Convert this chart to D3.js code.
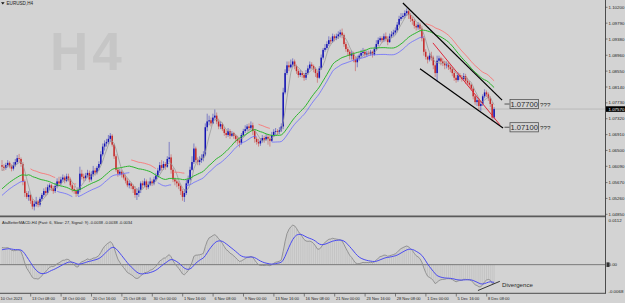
<!DOCTYPE html>
<html>
<head>
<meta charset="utf-8">
<title>EURUSD,H4</title>
<script src="https://cdn.jsdelivr.net/npm/d3@7"></script>
<style>
  html, body { margin: 0; padding: 0; background: #d3d3d3; }
  svg { display: block; font-family: "Liberation Sans", Arial, sans-serif; }
</style>
</head>
<body>
<svg id="chart" width="625" height="303"></svg>
<script>
// H4 closes before the first visible bar (3 Oct 16:00 .. 10 Oct 12:00), only used to warm up the indicators
const warmupCloses = [
  1.0470, 1.0468,
  1.0462, 1.0472, 1.0488, 1.0495, 1.0505, 1.0502,
  1.0508, 1.0520, 1.0535, 1.0550, 1.0545, 1.0548,
  1.0550, 1.0555, 1.0545, 1.0500, 1.0560, 1.0587,
  1.0560, 1.0555, 1.0568, 1.0570, 1.0575, 1.0565,
  1.0575, 1.0590, 1.0600, 1.0612
];

// visible bars, 10 Oct 16:00 .. 8 Dec 20:00 (6 bars a day)
const closes = [
  1.0608, 1.0605,
  1.0612, 1.0618, 1.0609, 1.0603, 1.0612, 1.0620,
  1.0630, 1.0628, 1.0615, 1.0570, 1.0540, 1.0530,
  1.0535, 1.0520, 1.0505, 1.0512, 1.0518, 1.0510,
  1.0525, 1.0535, 1.0545, 1.0540, 1.0555, 1.0560,
  1.0552, 1.0545, 1.0558, 1.0570, 1.0565, 1.0575,
  1.0580, 1.0572, 1.0583, 1.0575, 1.0560, 1.0550,
  1.0545, 1.0538, 1.0548, 1.0590, 1.0582, 1.0578,
  1.0585, 1.0592, 1.0575, 1.0588, 1.0598, 1.0593,
  1.0605, 1.0615, 1.0640, 1.0660, 1.0668, 1.0672,
  1.0680, 1.0688, 1.0665, 1.0635, 1.0600, 1.0590,
  1.0595, 1.0588, 1.0580, 1.0572, 1.0560, 1.0565,
  1.0558, 1.0550, 1.0535, 1.0540, 1.0548, 1.0565,
  1.0560, 1.0570, 1.0555, 1.0562, 1.0570, 1.0565,
  1.0575, 1.0585, 1.0598, 1.0612, 1.0605, 1.0615,
  1.0608, 1.0628, 1.0632, 1.0600, 1.0575, 1.0570,
  1.0565, 1.0558, 1.0545, 1.0530, 1.0540, 1.0565,
  1.0575, 1.0600, 1.0620, 1.0655, 1.0625, 1.0620,
  1.0625, 1.0630, 1.0640, 1.0710, 1.0725, 1.0728,
  1.0720, 1.0735, 1.0740, 1.0725, 1.0712, 1.0718,
  1.0705, 1.0695, 1.0690, 1.0700, 1.0688, 1.0695,
  1.0688, 1.0680, 1.0675, 1.0670, 1.0690, 1.0700,
  1.0705, 1.0712, 1.0708, 1.0715, 1.0700, 1.0680,
  1.0672, 1.0668, 1.0675, 1.0682, 1.0678, 1.0685,
  1.0680, 1.0675, 1.0690, 1.0698, 1.0700, 1.0698,
  1.0702, 1.0712, 1.0800, 1.0850, 1.0870, 1.0865,
  1.0872, 1.0880, 1.0868, 1.0855, 1.0845, 1.0850,
  1.0845, 1.0838, 1.0850, 1.0862, 1.0872, 1.0868,
  1.0860, 1.0850, 1.0838, 1.0862, 1.0890, 1.0910,
  1.0915, 1.0925, 1.0935, 1.0932, 1.0945, 1.0940,
  1.0945, 1.0950, 1.0955, 1.0948, 1.0925, 1.0912,
  1.0905, 1.0895, 1.0900, 1.0885, 1.0878, 1.0888,
  1.0895, 1.0902, 1.0905, 1.0898, 1.0902, 1.0900,
  1.0905, 1.0898, 1.0912, 1.0925, 1.0935, 1.0940,
  1.0935, 1.0945, 1.0938, 1.0930, 1.0945, 1.0950,
  1.0955, 1.0960, 1.0975, 1.0990, 1.0995, 1.0998,
  1.1005, 1.1010, 1.1000, 1.0990, 1.0985, 1.0972,
  1.0968, 1.0975, 1.0965, 1.0940, 1.0905, 1.0892,
  1.0885, 1.0895, 1.0890, 1.0870, 1.0850, 1.0882,
  1.0888, 1.0880, 1.0875, 1.0870, 1.0872, 1.0865,
  1.0860, 1.0850, 1.0838, 1.0832, 1.0845, 1.0840,
  1.0835, 1.0842, 1.0830, 1.0825, 1.0820, 1.0810,
  1.0790, 1.0775, 1.0780, 1.0765, 1.0770, 1.0790,
  1.0800, 1.0795, 1.0785, 1.0770, 1.0735, 1.0757
];

const highs = [
  1.0625, 1.0614,
  1.0618, 1.0625, 1.0622, 1.0614, 1.0620, 1.0628,
  1.0638, 1.0641, 1.0632, 1.0620, 1.0575, 1.0545,
  1.0545, 1.0538, 1.0525, 1.0520, 1.0530, 1.0522,
  1.0530, 1.0540, 1.0552, 1.0555, 1.0562, 1.0565,
  1.0564, 1.0558, 1.0566, 1.0578, 1.0582, 1.0582,
  1.0588, 1.0585, 1.0590, 1.0590, 1.0580, 1.0565,
  1.0558, 1.0550, 1.0555, 1.0608, 1.0600, 1.0590,
  1.0592, 1.0600, 1.0598, 1.0596, 1.0610, 1.0605,
  1.0610, 1.0622, 1.0648, 1.0668, 1.0676, 1.0680,
  1.0690, 1.0695, 1.0692, 1.0668, 1.0640, 1.0605,
  1.0602, 1.0600, 1.0595, 1.0588, 1.0578, 1.0572,
  1.0568, 1.0562, 1.0558, 1.0552, 1.0555, 1.0570,
  1.0572, 1.0578, 1.0575, 1.0570, 1.0580, 1.0575,
  1.0582, 1.0592, 1.0605, 1.0620, 1.0625, 1.0622,
  1.0620, 1.0635, 1.0672, 1.0640, 1.0605, 1.0580,
  1.0575, 1.0570, 1.0562, 1.0550, 1.0550, 1.0575,
  1.0585, 1.0608, 1.0635, 1.0668, 1.0660, 1.0632,
  1.0635, 1.0640, 1.0648, 1.0720, 1.0745, 1.0740,
  1.0735, 1.0745, 1.0756, 1.0748, 1.0732, 1.0725,
  1.0722, 1.0710, 1.0702, 1.0708, 1.0705, 1.0700,
  1.0698, 1.0692, 1.0688, 1.0682, 1.0695, 1.0706,
  1.0715, 1.0718, 1.0720, 1.0725, 1.0722, 1.0705,
  1.0685, 1.0680, 1.0682, 1.0690, 1.0688, 1.0692,
  1.0690, 1.0688, 1.0698, 1.0705, 1.0708, 1.0705,
  1.0710, 1.0720, 1.0812, 1.0860, 1.0880, 1.0880,
  1.0885, 1.0888, 1.0885, 1.0872, 1.0860, 1.0858,
  1.0855, 1.0850, 1.0858, 1.0870, 1.0880, 1.0878,
  1.0872, 1.0865, 1.0855, 1.0868, 1.0898, 1.0915,
  1.0925, 1.0932, 1.0945, 1.0942, 1.0952, 1.0950,
  1.0952, 1.0958, 1.0962, 1.0965, 1.0952, 1.0930,
  1.0918, 1.0910, 1.0908, 1.0905, 1.0892, 1.0895,
  1.0900, 1.0910, 1.0915, 1.0912, 1.0908, 1.0908,
  1.0910, 1.0908, 1.0918, 1.0935, 1.0942, 1.0945,
  1.0945, 1.0952, 1.0955, 1.0945, 1.0952, 1.0958,
  1.0962, 1.0968, 1.0982, 1.0998, 1.1005, 1.1005,
  1.1012, 1.1017, 1.1014, 1.1005, 1.0995, 1.0990,
  1.0978, 1.0982, 1.0980, 1.0972, 1.0945, 1.0912,
  1.0895, 1.0902, 1.0905, 1.0895, 1.0875, 1.0895,
  1.0895, 1.0892, 1.0888, 1.0882, 1.0880, 1.0878,
  1.0870, 1.0865, 1.0855, 1.0845, 1.0852, 1.0850,
  1.0845, 1.0850, 1.0848, 1.0838, 1.0830, 1.0822,
  1.0815, 1.0795, 1.0788, 1.0785, 1.0778, 1.0795,
  1.0808, 1.0805, 1.0800, 1.0790, 1.0775, 1.0762
];

const lows = [
  1.0598, 1.0597,
  1.0600, 1.0606, 1.0604, 1.0596, 1.0598, 1.0608,
  1.0615, 1.0620, 1.0608, 1.0560, 1.0530, 1.0525,
  1.0520, 1.0512, 1.0498, 1.0495, 1.0505, 1.0503,
  1.0505, 1.0520, 1.0530, 1.0532, 1.0536, 1.0548,
  1.0545, 1.0538, 1.0540, 1.0552, 1.0558, 1.0560,
  1.0570, 1.0565, 1.0568, 1.0570, 1.0555, 1.0542,
  1.0538, 1.0530, 1.0532, 1.0542, 1.0575, 1.0570,
  1.0572, 1.0580, 1.0568, 1.0570, 1.0582, 1.0585,
  1.0588, 1.0598, 1.0612, 1.0635, 1.0650, 1.0660,
  1.0665, 1.0672, 1.0660, 1.0628, 1.0595, 1.0582,
  1.0585, 1.0580, 1.0575, 1.0565, 1.0555, 1.0552,
  1.0550, 1.0540, 1.0528, 1.0522, 1.0530, 1.0540,
  1.0552, 1.0555, 1.0548, 1.0550, 1.0558, 1.0558,
  1.0560, 1.0570, 1.0580, 1.0592, 1.0598, 1.0600,
  1.0600, 1.0605, 1.0620, 1.0590, 1.0568, 1.0560,
  1.0555, 1.0550, 1.0535, 1.0520, 1.0517, 1.0535,
  1.0560, 1.0570, 1.0598, 1.0615, 1.0618, 1.0612,
  1.0612, 1.0618, 1.0622, 1.0635, 1.0700, 1.0715,
  1.0712, 1.0718, 1.0730, 1.0718, 1.0705, 1.0705,
  1.0700, 1.0688, 1.0682, 1.0685, 1.0680, 1.0685,
  1.0680, 1.0670, 1.0665, 1.0658, 1.0665, 1.0685,
  1.0695, 1.0700, 1.0700, 1.0702, 1.0690, 1.0670,
  1.0665, 1.0660, 1.0662, 1.0670, 1.0670, 1.0675,
  1.0665, 1.0660, 1.0672, 1.0685, 1.0690, 1.0690,
  1.0692, 1.0698, 1.0705, 1.0795, 1.0845, 1.0855,
  1.0862, 1.0865, 1.0860, 1.0848, 1.0838, 1.0840,
  1.0838, 1.0830, 1.0832, 1.0845, 1.0858, 1.0860,
  1.0852, 1.0840, 1.0825, 1.0835, 1.0858, 1.0885,
  1.0905, 1.0910, 1.0920, 1.0925, 1.0928, 1.0932,
  1.0935, 1.0938, 1.0942, 1.0940, 1.0918, 1.0905,
  1.0895, 1.0885, 1.0885, 1.0878, 1.0855, 1.0865,
  1.0882, 1.0890, 1.0895, 1.0890, 1.0892, 1.0895,
  1.0895, 1.0890, 1.0895, 1.0908, 1.0920, 1.0930,
  1.0928, 1.0930, 1.0932, 1.0922, 1.0928, 1.0940,
  1.0945, 1.0948, 1.0955, 1.0970, 1.0985, 1.0990,
  1.0992, 1.0998, 1.0990, 1.0982, 1.0975, 1.0965,
  1.0960, 1.0962, 1.0958, 1.0932, 1.0895, 1.0885,
  1.0875, 1.0880, 1.0882, 1.0860, 1.0840, 1.0828,
  1.0878, 1.0870, 1.0868, 1.0860, 1.0862, 1.0858,
  1.0852, 1.0842, 1.0830, 1.0825, 1.0828, 1.0832,
  1.0828, 1.0830, 1.0822, 1.0818, 1.0815, 1.0805,
  1.0782, 1.0768, 1.0765, 1.0755, 1.0752, 1.0765,
  1.0785, 1.0788, 1.0778, 1.0762, 1.0725, 1.0730
];

const priceTicks = [1.10200, 1.09790, 1.09380, 1.08960, 1.08550, 1.08140, 1.07730,
  1.07320, 1.06910, 1.06500, 1.06090, 1.05670, 1.05260, 1.04850];
const macdTicks = [0.0112, 0, -0.0068];
const macdTickLabels = ['0.0112', '0.00', '-0.0068'];

const timeLabels = ['10 Oct 2023', '13 Oct 08:00', '18 Oct 00:00', '20 Oct 16:00', '25 Oct 08:00',
  '30 Oct 00:00', '1 Nov 16:00', '6 Nov 08:00', '9 Nov 00:00', '13 Nov 16:00', '16 Nov 08:00',
  '21 Nov 00:00', '23 Nov 16:00', '28 Nov 08:00', '1 Dec 00:00', '5 Dec 16:00', '8 Dec 08:00'];
const timeLabelBars = [0, 16, 32, 48, 64, 80, 96, 112, 128, 144, 160, 176, 192, 208, 224, 240, 256];

// drawn objects, [bar, price]
const channelUpper = [[211, 1.1031], [263.2, 1.0780]];
const channelLower = [[220, 1.0861], [263.7, 1.0708]];
const innerLine = [[226.8, 1.0928], [262.1, 1.0716]];
const levelPrices = [1.07700, 1.07100];
const levelTexts = ['1.07700', '1.07100'];
// [bar, macd value]
const divergenceLine = [[250.5, -0.0062], [262, -0.0040]];

const currentPrice = 1.07570;
const macdTitle = 'AtaBetterMACD-H4 (Fast: 6, Slow: 27, Signal: 9) -0.0038 -0.0038 -0.0034';

(function () {
  'use strict';

  const COLORS = {
    bg:       '#d3d3d3',
    axis:     '#3c3c3c',
    text:     '#1e1e1e',
    bull:     '#1212b4',
    bear:     '#c62a2a',
    ma:       '#2cb52c',
    envUp:    '#ff6b6b',
    envDown:  '#6b6bff',
    fast:     '#9a9a9a',
    priceLn:  '#b4b4b4',
    watermark:'#c6c6c6',
    hist:     '#b4b4b4',
    macd:     '#8c8c8c',
    signal:   '#4a4af0',
    zero:     '#7a7a7a',
    trendRed: '#e0283a'
  };

  const MA_PERIOD = 27;
  const FAST_PERIOD = 5;
  const ENV = 0.0016;

  const PLOT_RIGHT = 605.5;
  const MAIN_BOTTOM = 216;
  const SUB_TOP = 218;
  const SUB_BOTTOM = 293;

  const svg = d3.select('#chart');
  svg.append('rect').attr('width', 625).attr('height', 303).attr('fill', COLORS.bg);

  const n = closes.length;
  const x = d3.scaleLinear().domain([0, n - 1]).range([2, 2 + (n - 1) * 1.9]);
  const y = d3.scaleLinear().domain([1.04850, 1.10200]).range([214.3, 7.3]);
  const ym = d3.scaleLinear().domain([-0.0068, 0.0112]).range([SUB_BOTTOM, SUB_TOP]);

  const defs = svg.append('defs');
  defs.append('clipPath').attr('id', 'clip-main')
    .append('rect').attr('x', 0).attr('y', 0).attr('width', PLOT_RIGHT).attr('height', MAIN_BOTTOM - 0.5);
  defs.append('clipPath').attr('id', 'clip-sub')
    .append('rect').attr('x', 0).attr('y', SUB_TOP).attr('width', PLOT_RIGHT).attr('height', SUB_BOTTOM - SUB_TOP);

  // ---- bars and indicators
  const bars = closes.map((c, i) => {
    const o = i === 0 ? warmupCloses[warmupCloses.length - 1] : closes[i - 1];
    return { i, o, c, h: Math.max(highs[i], o, c), l: Math.min(lows[i], o, c) };
  });

  const series = warmupCloses.concat(closes);
  const off = warmupCloses.length;

  function smaAt(period, k) {
    let s = 0;
    for (let j = k - period + 1; j <= k; j++) s += series[Math.max(0, j)];
    return s / period;
  }

  function ema(arr, period) {
    const a = 2 / (period + 1);
    const out = [];
    arr.forEach((v, k) => out.push(k === 0 ? v : out[k - 1] + a * (v - out[k - 1])));
    return out;
  }

  const ma = closes.map((_, i) => smaAt(MA_PERIOD, off + i));
  const maPrev = closes.map((_, i) => smaAt(MA_PERIOD, off + i - 2));
  const fast = closes.map((_, i) => smaAt(FAST_PERIOD, off + i));
  const e6 = ema(series, 6);
  const e27 = ema(series, 27);
  const macdAll = series.map((v, k) => e6[k] - e27[k]);
  const sigAll = ema(macdAll, 9);
  const macd = macdAll.slice(off);
  const signal = sigAll.slice(off);

  // ---- main panel
  const main = svg.append('g').attr('clip-path', 'url(#clip-main)');

  main.append('text')
    .attr('x', 50).attr('y', 70)
    .attr('font-size', 53).attr('font-weight', 'bold')
    .attr('letter-spacing', 4)
    .attr('fill', COLORS.watermark)
    .text('H4');

  main.append('line')
    .attr('x1', 0).attr('x2', PLOT_RIGHT)
    .attr('y1', y(currentPrice)).attr('y2', y(currentPrice))
    .attr('stroke', COLORS.priceLn).attr('stroke-width', 0.8);

  const candle = main.append('g').selectAll('g')
    .data(bars)
    .enter().append('g');

  candle.append('line')
    .attr('x1', d => x(d.i)).attr('x2', d => x(d.i))
    .attr('y1', d => y(d.h)).attr('y2', d => y(d.l))
    .attr('stroke', d => d.c >= d.o ? COLORS.bull : COLORS.bear)
    .attr('stroke-opacity', 0.55)
    .attr('stroke-width', 0.8);

  candle.append('rect')
    .attr('x', d => x(d.i) - 0.75)
    .attr('width', 1.5)
    .attr('y', d => y(Math.max(d.o, d.c)))
    .attr('height', d => Math.max(0.8, Math.abs(y(d.o) - y(d.c))))
    .attr('fill', d => d.c >= d.o ? COLORS.bull : COLORS.bear);

  const line = d3.line().x((d, i) => x(i)).y(d => y(d));

  main.append('path')
    .attr('d', line(fast))
    .attr('fill', 'none').attr('stroke', COLORS.fast).attr('stroke-width', 0.8);

  // envelope: lower band while the average is not falling, upper band while it falls
  const envLine = d3.line()
    .defined(d => d.show)
    .x(d => x(d.i)).y(d => y(d.v));

  main.append('path')
    .attr('d', envLine(ma.map((m, i) => ({ i, v: m * (1 - ENV), show: m >= maPrev[i] || closes[i] >= m }))))
    .attr('fill', 'none').attr('stroke', COLORS.envDown).attr('stroke-width', 0.8);

  main.append('path')
    .attr('d', envLine(ma.map((m, i) => ({ i, v: m * (1 + ENV), show: m < maPrev[i] && closes[i] < m }))))
    .attr('fill', 'none').attr('stroke', COLORS.envUp).attr('stroke-width', 0.8);

  main.append('path')
    .attr('d', line(ma))
    .attr('fill', 'none').attr('stroke', COLORS.ma).attr('stroke-width', 1);

  // trend lines
  const objLine = d3.line().x(d => x(d[0])).y(d => y(d[1]));
  main.append('path').attr('d', objLine(channelUpper))
    .attr('stroke', '#000').attr('stroke-width', 1.2).attr('fill', 'none');
  main.append('path').attr('d', objLine(channelLower))
    .attr('stroke', '#000').attr('stroke-width', 1.2).attr('fill', 'none');
  main.append('path').attr('d', objLine(innerLine))
    .attr('stroke', COLORS.trendRed).attr('stroke-width', 1).attr('fill', 'none');

  // price level labels
  levelPrices.forEach((p, k) => {
    const ly = y(p);
    main.append('line')
      .attr('x1', 504.5).attr('x2', 509.5).attr('y1', ly).attr('y2', ly)
      .attr('stroke', '#333').attr('stroke-width', 0.8);
    main.append('rect')
      .attr('x', 510).attr('y', ly - 4.6).attr('width', 28.5).attr('height', 9.2)
      .attr('fill', 'none').attr('stroke', '#555').attr('stroke-width', 0.8);
    main.append('text')
      .attr('x', 524.2).attr('y', ly + 2.7)
      .attr('text-anchor', 'middle')
      .attr('font-size', 7.6).attr('fill', '#2a2a2a')
      .text(levelTexts[k]);
    main.append('text')
      .attr('x', 540).attr('y', ly + 2.6)
      .attr('font-size', 6.2).attr('fill', '#2a2a2a')
      .text('???');
  });

  // chart title
  svg.append('path')
    .attr('d', 'M1,2.2 L4.6,2.2 L2.8,4.6 Z')
    .attr('fill', '#111');
  svg.append('text')
    .attr('x', 6.5).attr('y', 5.3)
    .attr('font-size', 4.6).attr('fill', COLORS.text)
    .text('EURUSD,H4');

  // ---- indicator panel
  const sub = svg.append('g').attr('clip-path', 'url(#clip-sub)');

  sub.append('g').selectAll('line')
    .data(macd)
    .enter().append('line')
    .attr('x1', (d, i) => x(i)).attr('x2', (d, i) => x(i))
    .attr('y1', ym(0)).attr('y2', d => ym(d))
    .attr('stroke', COLORS.hist).attr('stroke-width', 0.5);

  sub.append('line')
    .attr('x1', 0).attr('x2', PLOT_RIGHT).attr('y1', ym(0)).attr('y2', ym(0))
    .attr('stroke', COLORS.zero).attr('stroke-width', 1);

  const mline = d3.line().x((d, i) => x(i)).y(d => ym(d));
  sub.append('path').attr('d', mline(macd))
    .attr('fill', 'none').attr('stroke', COLORS.macd).attr('stroke-width', 0.9);
  sub.append('path').attr('d', mline(signal))
    .attr('fill', 'none').attr('stroke', COLORS.signal).attr('stroke-width', 1);

  const divLine = d3.line().x(d => x(d[0])).y(d => ym(d[1]));
  sub.append('path').attr('d', divLine(divergenceLine))
    .attr('fill', 'none').attr('stroke', '#222').attr('stroke-width', 0.9);
  sub.append('text')
    .attr('x', 502).attr('y', 286.6)
    .attr('font-size', 6.1).attr('fill', '#2a2a2a')
    .text('Divergence');

  svg.append('text')
    .attr('x', 2).attr('y', 223.6)
    .attr('font-size', 4).attr('fill', COLORS.text)
    .text(macdTitle);

  // ---- frames
  svg.append('line')
    .attr('x1', 0).attr('x2', PLOT_RIGHT).attr('y1', 216.4).attr('y2', 216.4)
    .attr('stroke', '#5a5a5a').attr('stroke-width', 1.6);
  svg.append('line')
    .attr('x1', 0).attr('x2', PLOT_RIGHT + 0.5).attr('y1', SUB_BOTTOM + 0.3).attr('y2', SUB_BOTTOM + 0.3)
    .attr('stroke', COLORS.axis).attr('stroke-width', 0.9);
  svg.append('line')
    .attr('x1', PLOT_RIGHT).attr('x2', PLOT_RIGHT).attr('y1', 0).attr('y2', SUB_BOTTOM + 0.3)
    .attr('stroke', COLORS.axis).attr('stroke-width', 0.9);

  // ---- price axis
  const pAxis = svg.append('g');
  priceTicks.forEach(p => {
    pAxis.append('line')
      .attr('x1', PLOT_RIGHT).attr('x2', PLOT_RIGHT + 2).attr('y1', y(p)).attr('y2', y(p))
      .attr('stroke', COLORS.axis).attr('stroke-width', 0.6);
    pAxis.append('text')
      .attr('x', 608.5).attr('y', y(p) + 1.6)
      .attr('font-size', 4.4).attr('fill', COLORS.text)
      .text(p.toFixed(5));
  });
  pAxis.append('rect')
    .attr('x', 606).attr('y', y(currentPrice) - 2.8).attr('width', 19).attr('height', 5.6)
    .attr('fill', '#000');
  pAxis.append('text')
    .attr('x', 608.5).attr('y', y(currentPrice) + 1.6)
    .attr('font-size', 4.4).attr('fill', '#fff')
    .text(currentPrice.toFixed(5));

  macdTicks.forEach((v, k) => {
    const ty = k === 0 ? 220.2 : (k === 2 ? 291 : ym(v));
    pAxis.append('text')
      .attr('x', 608.5).attr('y', ty + 1.6)
      .attr('font-size', 4.4).attr('fill', COLORS.text)
      .text(macdTickLabels[k]);
  });
  pAxis.append('rect')
    .attr('x', 606.5).attr('y', ym(0) - 2.3).attr('width', 3).attr('height', 4.6)
    .attr('fill', '#333');

  // ---- time axis
  const tAxis = svg.append('g');
  timeLabels.forEach((t, k) => {
    const tx = k === 0 ? 0.5 : x(timeLabelBars[k]) - 1.7;
    if (k > 0) {
      tAxis.append('line')
        .attr('x1', tx).attr('x2', tx).attr('y1', SUB_BOTTOM + 0.5).attr('y2', SUB_BOTTOM + 3.5)
        .attr('stroke', COLORS.axis).attr('stroke-width', 0.6);
    }
    tAxis.append('text')
      .attr('x', k === 0 ? tx : tx + 1.3).attr('y', 299.5)
      .attr('font-size', 4).attr('fill', COLORS.text)
      .text(t);
  });
})();
</script>
</body>
</html>
